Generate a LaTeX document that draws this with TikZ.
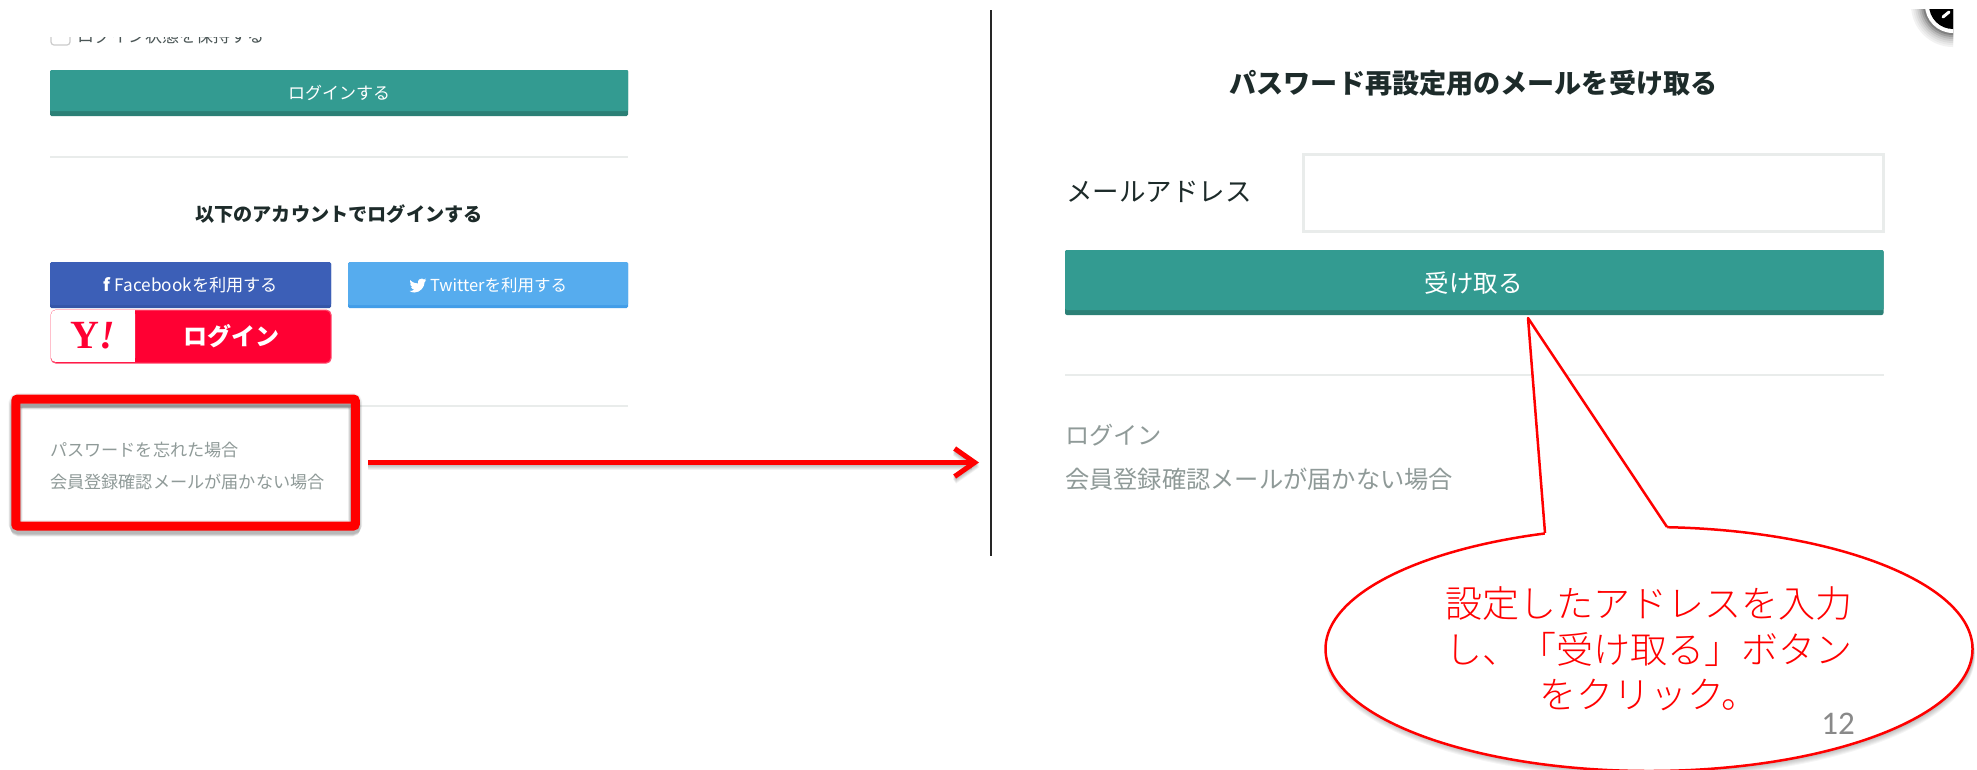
\documentclass[tikz,border=0pt]{standalone}
\usepackage{fontspec}
\usetikzlibrary{arrows.meta,shapes.geometric}
\newfontfamily\jpfont{Noto Sans CJK JP}
\newfontfamily\jplight{Noto Sans CJK JP Light}
\newfontfamily\numfont{Carlito}
\newfontfamily\yfont{Liberation Serif}
\definecolor{teal}{HTML}{339B91}
\definecolor{tealdark}{HTML}{2B8076}
\definecolor{fbblue}{HTML}{3C5FB7}
\definecolor{fbdark}{HTML}{3556A8}
\definecolor{twblue}{HTML}{56ACEE}
\definecolor{twdark}{HTML}{429DE8}
\definecolor{yred}{HTML}{FF0033}
\definecolor{yborder}{HTML}{FF4D70}
\definecolor{hrgray}{HTML}{E9ECEB}
\definecolor{mutedtxt}{HTML}{8F9A98}
\definecolor{headtxt}{HTML}{1D2B2A}
\definecolor{pagenum}{HTML}{898989}
\newcommand{\jpsize}[1]{\jpfont\fontsize{#1}{#1}\selectfont}
\tikzset{
  btn/.style={rectangle,rounded corners=1.5pt,inner sep=0pt,text=white,align=center},
  hrule/.style={hrgray,line width=2pt},
  muted/.style={anchor=west,inner sep=0pt,text=mutedtxt},
  head/.style={inner sep=0pt,text=headtxt},
  redline/.style={red,line width=2.5pt},
  barb/.style={line width=5pt,-{Straight Barb[length=20pt,width=28pt,line width=5pt]}},
}
\begin{document}
\begin{tikzpicture}[x=1pt,y=-1pt]
\useasboundingbox (0,0) rectangle (1977,769);
\clip (0,0) rectangle (1977,769);
\fill[white] (0,0) rectangle (1977,769);

% clipped top of the form
\begin{scope}
\clip (40,37) rectangle (300,50);
\draw[gray!40,line width=1.2pt,rounded corners=3pt,fill=white] (51,28) rectangle (70,45);
\node[head,anchor=west,text=headtxt!80] (keep) at (77,36) {\jpsize{17}ログイン状態を保持する};
\end{scope}

% login button
\fill[tealdark,rounded corners=1.5pt] (50,70) rectangle (628,116);
\node[btn,fill=teal,minimum width=578pt,minimum height=41pt,anchor=north west,rounded corners=1pt] (login) at (50,70) {};
\node[inner sep=0pt,text=white] (logintxt) at (339,93) {\jpsize{17}ログインする};
\draw[hrule] (50,157) -- (628,157);
\node[head] (acct) at (339,214) {\jpsize{19.15}\bfseries 以下のアカウントでログインする};

% facebook / twitter
\fill[fbdark,rounded corners=1.5pt] (50,262) rectangle (331,308);
\node[btn,fill=fbblue,minimum width=281pt,minimum height=43pt,anchor=north west] (fb) at (50,262) {};
\node[inner sep=0pt,text=white,anchor=west] (fbtxt) at (103,285) {\jpsize{17.2}\textbf{f}\hspace{4pt}Facebookを利用する};
\fill[twdark,rounded corners=1.5pt] (348,262) rectangle (628,308);
\node[btn,fill=twblue,minimum width=280pt,minimum height=43pt,anchor=north west] (tw) at (348,262) {};
\fill[white] (410,280) .. controls (413,283) and (416,283.5) .. (418,283.5)
  .. controls (417.5,280) and (420,278) .. (422,278.5) .. controls (423,278.5) and (423.5,279) .. (424,279.5)
  .. controls (424.5,279.5) and (425.5,279) .. (426,278.5) .. controls (425.7,279.5) and (425.2,280.2) .. (424.6,280.6)
  .. controls (425.2,280.6) and (425.7,280.4) .. (426.2,280.2) .. controls (425.7,281) and (425.2,281.5) .. (424.6,282)
  .. controls (424.8,287) and (420,292.5) .. (414.5,292.5) .. controls (412.5,292.5) and (411,292) .. (409.5,291)
  .. controls (411.5,291.2) and (413,290.5) .. (414.3,289.5) .. controls (412.8,289.5) and (411.6,288.5) .. (411.1,287.2)
  .. controls (411.7,287.3) and (412.2,287.3) .. (412.8,287.1) .. controls (411.2,286.8) and (410.2,285.3) .. (410.2,283.7)
  .. controls (410.7,284) and (411.2,284.1) .. (411.7,284.2) .. controls (410.2,283.2) and (409.6,281.5) .. (410,280) -- cycle;
\node[inner sep=0pt,text=white,anchor=west] (twtxt) at (430,285) {\jpsize{16.5}Twitterを利用する};

% yahoo
\node[btn,fill=yred,draw=yborder,line width=1.2pt,minimum width=280pt,minimum height=53pt,anchor=north west,rounded corners=5pt] (yahoo) at (50.5,309.5) {};
\fill[white,rounded corners=4pt] (51.2,310.2) -- (135,310.2) -- (135,361.8) -- (51.2,361.8) -- cycle;
\fill[white] (120,310.2) rectangle (135,361.8);
\node[inner sep=0pt,text=yred] (ylogo) at (93,336) {\yfont\fontsize{40}{40}\selectfont\bfseries Y\itshape !};
\node[inner sep=0pt,text=white] (ytxt) at (231,336) {\jpsize{24}\bfseries ログイン};

% forgot section
\draw[hrule] (50,406) -- (628,406);
\foreach \o/\w in {1/14,2/13,3/12,4/11,5/10,6/9}
  \draw[black,opacity=.05,line width=\w pt,rounded corners=3pt] (15.7,399+\o) rectangle (355.2,526+\o);
\node[rectangle,draw=red,line width=9pt,minimum width=339.5pt,minimum height=127pt,inner sep=0pt,rounded corners=2pt] (redbox) at (185.5,462.5) {};
\fill[black,opacity=.12] (20.2,403.5) rectangle (350.7,408);
\node[muted] (forgot) at (50,450) {\jpsize{17.15}パスワードを忘れた場合};
\node[muted] (noconf) at (50,482) {\jpsize{17.15}会員登録確認メールが届かない場合};

% red arrow
\coordinate (arrowstart) at ([xshift=8.5pt]redbox.east);
\coordinate (arrowend) at (979,462.5);
\foreach \o in {1,2,3,4,5}
  \draw[black,opacity=.05,barb] ([yshift=-\o pt]arrowstart) -- ([yshift=-\o pt]arrowend);
\draw[red,barb] (arrowstart) -- (arrowend);

% divider
\coordinate (divtop) at (991,10);
\coordinate (divbot) at (991,556);
\draw[black!85,line width=2pt] (divtop) -- (divbot);

% right panel
\node[head] (rhead) at (1473.5,83) {\jpsize{27.1}\bfseries パスワード再設定用のメールを受け取る};
\node[head,anchor=west] (mail) at (1066,192) {\jpsize{26.5}メールアドレス};
\node[rectangle,draw=hrgray,fill=white,line width=3pt,minimum width=580pt,minimum height=77pt,inner sep=0pt,anchor=north west] (input) at (1302,152.5) {};
\fill[tealdark,rounded corners=2pt] (1065,250) rectangle (1883.5,315);
\node[btn,fill=teal,minimum width=818.5pt,minimum height=60pt,anchor=north west] (recv) at (1065,250) {};
\node[inner sep=0pt,text=white] (recvtxt) at (1473.5,283) {\jpsize{24.5}受け取る};
\draw[hrule] (1065,374.5) -- (1883.5,374.5);
\node[muted] (rlogin) at (1065,435) {\jpsize{24.25}ログイン};
\node[muted] (rnoconf) at (1065,479) {\jpsize{24.25}会員登録確認メールが届かない場合};

% eye fragment
\begin{scope}
\clip (1905,9) rectangle (1953,60);
\foreach \r/\g in {42/5,40/9,38/14,36/20,34/28,32/38,30/50}
  \fill[black!\g] (1953,5) circle (\r);
\fill[white] (1953,5) circle (28);
\fill[black] (1953,5) circle (24);
\draw[white,line width=3pt,line cap=round] (1943,17) -- (1949,12);
\end{scope}

% callout
\foreach \o in {1,...,8}
  \fill[black,opacity=.04] (1650,648+\o) ellipse (323.5+\o*.2 and 122);
\node[ellipse,draw=red,fill=white,line width=2.5pt,minimum width=647pt,minimum height=244pt,inner sep=0pt,text=red,align=center,font={\jplight\fontsize{37}{45.5}\selectfont}] (callout) at (1649,649) {設定したアドレスを入力\\し、「受け取る」ボタン\\をクリック。};
\coordinate (tip) at (1528,318);
\coordinate (baseL) at (1545,533);
\coordinate (baseR) at (1667,527);
\fill[white] (tip) -- (baseL) -- ([yshift=-4pt]baseL) -- ([yshift=-4pt]baseR) -- (baseR) -- cycle;
\draw[redline,line join=round] (baseL) -- (tip) -- (baseR);
\node[inner sep=0pt,text=pagenum] (pg) at (1838,724) {\numfont\fontsize{33}{33}\selectfont 12};
\end{tikzpicture}
\end{document}
